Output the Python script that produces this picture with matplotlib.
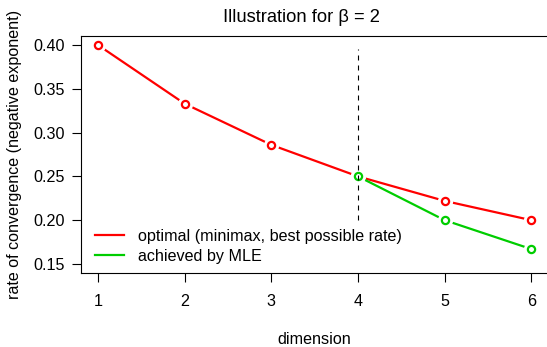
import matplotlib
matplotlib.use("Agg")
import matplotlib.pyplot as plt
from matplotlib.lines import Line2D

dims = [1, 2, 3, 4, 5, 6]
optimal = [0.400, 0.333, 0.286, 0.250, 0.222, 0.200]
mle_dims = [4, 5, 6]
mle = [0.250, 0.200, 0.167]
xticks = [1, 2, 3, 4, 5, 6]
yticks = [0.15, 0.20, 0.25, 0.30, 0.35, 0.40]
ytick_labels = ["0.15", "0.20", "0.25", "0.30", "0.35", "0.40"]
labels = ["optimal (minimax, best possible rate)", "achieved by MLE"]
title = "Illustration for \u03b2 = 2"

plt.rcParams['font.family'] = ['Liberation Sans', 'DejaVu Sans']

W, H = 547, 347
fig = plt.figure(figsize=(W / 100, H / 100), dpi=100)
L, R, T, B = 80.7, 548.6, 36.3, 272.7
ax = fig.add_axes([L / W, 1 - B / H, (R - L) / W, (B - T) / H])
ax.set_xlim(0.8, 6.2)
ax.set_ylim(0.14, 0.41)

red = "#FF0000"
green = "#00CD00"
FS = 11.6

def series(x, y, c, z):
    ax.plot(x, y, color=c, lw=1.6, zorder=z, solid_capstyle='butt')
    ax.plot(x, y, ls='none', marker='o', ms=11, mfc='white', mec='white', mew=0, zorder=z + 0.1)
    ax.plot(x, y, ls='none', marker='o', ms=5.2, mfc='white', mec=c, mew=1.6, zorder=z + 0.2)

series(dims, optimal, red, 2)
series(mle_dims, mle, green, 3)
ax.plot([4, 4], [0.2, 0.395], color='black', lw=0.8, ls=(0, (4.5, 4.5)), zorder=5)

for s in ['top', 'left', 'bottom', 'right']:
    ax.spines[s].set_linewidth(0.8)
ax.set_xticks(xticks)
ax.set_yticks(yticks)
ax.set_yticklabels(ytick_labels)
ax.tick_params(axis='x', length=6.5, width=0.8, pad=9, labelsize=FS)
ax.tick_params(axis='y', length=6.5, width=0.8, pad=5, labelsize=FS)

fig.text(301 / W, 1 - 17 / H, title, ha='center', va='center', fontsize=13.2)
fig.text(314 / W, 1 - 340 / H, "dimension", ha='center', va='center', fontsize=FS)
fig.text(15 / W, 1 - 154.5 / H, "rate of convergence (negative exponent)", ha='center', va='center',
         rotation=90, fontsize=FS)

handles = [Line2D([0], [0], color=red, lw=1.6), Line2D([0], [0], color=green, lw=1.6)]
leg = ax.legend(handles, labels, loc='upper left', bbox_to_anchor=(95 / W, 1 - 229 / H),
                bbox_transform=fig.transFigure, frameon=False, fontsize=FS,
                handlelength=1.8, handletextpad=0.85, labelspacing=0.3, borderpad=0, borderaxespad=0)

fig.savefig("out.png", dpi=100)
